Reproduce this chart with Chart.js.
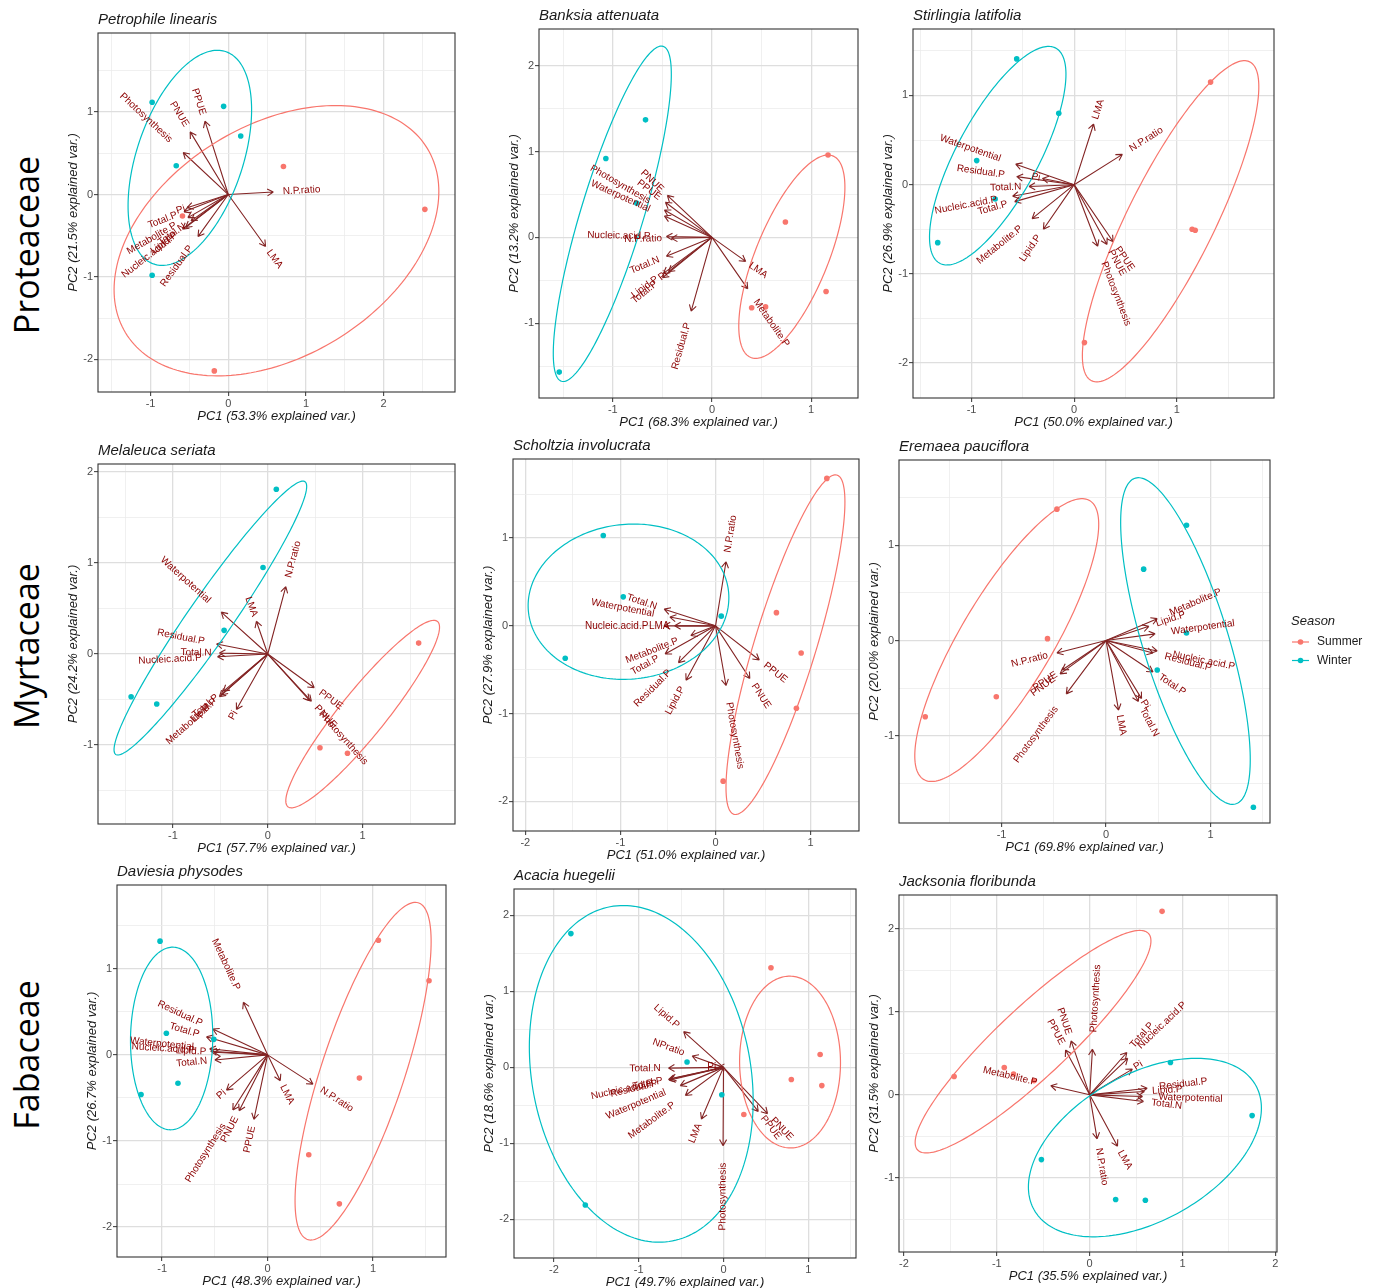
<!DOCTYPE html>
<html>
<head>
<meta charset="utf-8">
<script src="https://cdn.jsdelivr.net/npm/chart.js@4/dist/chart.umd.min.js"></script>
<style>
  body { margin: 0; background: #fff; }
  #page { position: relative; width: 1375px; height: 1288px; overflow: hidden; }
  canvas { position: absolute; }
  .family {
    position: absolute; white-space: nowrap; font: 34px "Open Sans", sans-serif; color: #000;
    transform: translate(-50%, -50%) rotate(-90deg);
  }
</style>
</head>
<body>
<div id="page">
  <div class="family" style="left:26px;top:245px">Proteaceae</div>
  <div class="family" style="left:26px;top:646px">Myrtaceae</div>
  <div class="family" style="left:26px;top:1055px">Fabaceae</div>
</div>
<script>
const SUMMER = "#F8766D";
const WINTER = "#00BFC4";
const ARROW = "#832424";
const LABEL = "#8B0000";

// ellipses: [leftmost x, rightmost x, lowest y, highest y, x at the top point]

// Petrophile linearis
const petrophileSummer = [[0.71, 0.34], [2.53, -0.18], [-0.18, -2.14], [-0.59, -0.26]];
const petrophileWinter = [[-0.98, 1.12], [-0.06, 1.07], [0.16, 0.71], [-0.67, 0.35], [-0.98, -0.98]];
const petrophileArrows = [
  ["PPUE", -0.30, 0.89], ["PNUE", -0.49, 0.76], ["Photosynthesis", -0.58, 0.51],
  ["N.P.ratio", 0.58, 0.03], ["LMA", 0.48, -0.63], ["Pi", -0.53, -0.16],
  ["Total.P", -0.57, -0.21], ["Metabolite.P", -0.52, -0.28], ["Total.N", -0.48, -0.32],
  ["Nucleic.acid.P", -0.55, -0.40], ["Lipid.P", -0.59, -0.42], ["Residual.P", -0.39, -0.51]
];
const petrophileSummerEllipse = [-1.47, 2.71, -2.20, 1.08, 1.38];
const petrophileWinterEllipse = [-1.29, 0.30, -0.86, 1.75, -0.14];

// Banksia attenuata
const banksiaSummer = [[1.17, 0.96], [0.74, 0.18], [1.15, -0.63], [0.40, -0.82], [0.54, -0.81]];
const banksiaWinter = [[-0.67, 1.37], [-1.07, 0.92], [-0.76, 0.40], [-1.54, -1.57]];
const banksiaArrows = [
  ["PNUE", -0.45, 0.49], ["PPUE", -0.47, 0.41], ["Photosynthesis", -0.48, 0.32],
  ["Waterpotential", -0.48, 0.25], ["Nucleic.acid.P", -0.46, 0.01], ["N.P.ratio", -0.41, -0.01],
  ["Total.N", -0.46, -0.22], ["Pi", -0.44, -0.40], ["Lipid.P", -0.49, -0.42],
  ["Total.P", -0.50, -0.47], ["Residual.P", -0.21, -0.86], ["LMA", 0.34, -0.28],
  ["Metabolite.P", 0.36, -0.60]
];
const banksiaSummerEllipse = [0.27, 1.34, -1.41, 0.96, 1.17];
const banksiaWinterEllipse = [-1.60, -0.41, -1.68, 2.23, -0.51];

// Stirlingia latifolia
const stirlingiaSummer = [[1.33, 1.15], [1.15, -0.50], [1.18, -0.51], [0.10, -1.77]];
const stirlingiaWinter = [[-0.56, 1.41], [-0.15, 0.80], [-0.95, 0.27], [-0.77, -0.16], [-1.33, -0.65]];
const stirlingiaArrows = [
  ["LMA", 0.19, 0.68], ["N.P.ratio", 0.47, 0.34], ["Waterpotential", -0.57, 0.23],
  ["Residual.P", -0.56, 0.09], ["Pi", -0.31, 0.07], ["Total.N", -0.44, -0.02],
  ["Nucleic.acid.P", -0.60, -0.13], ["Total.P", -0.58, -0.19], ["Metabolite.P", -0.41, -0.38],
  ["Lipid.P", -0.30, -0.50], ["PPUE", 0.38, -0.64], ["PNUE", 0.32, -0.67],
  ["Photosynthesis", 0.23, -0.69]
];
const stirlingiaSummerEllipse = [0.08, 1.80, -2.21, 1.39, 1.66];
const stirlingiaWinterEllipse = [-1.41, -0.08, -0.90, 1.55, -0.25];

// Melaleuca seriata
const melaleucaSummer = [[1.59, 0.12], [0.55, -1.03], [0.84, -1.09]];
const melaleucaWinter = [[0.09, 1.81], [-0.05, 0.95], [-0.46, 0.26], [-1.44, -0.47], [-1.17, -0.55]];
const melaleucaArrows = [
  ["N.P.ratio", 0.19, 0.74], ["LMA", -0.12, 0.36], ["Waterpotential", -0.49, 0.46],
  ["Residual.P", -0.54, 0.11], ["Total.N", -0.51, 0.01], ["Nucleic.acid.P", -0.53, -0.03],
  ["Total.P", -0.47, -0.41], ["Lipid.P", -0.49, -0.45], ["Metabolite.P", -0.51, -0.47],
  ["Pi", -0.33, -0.61], ["PPUE", 0.49, -0.37], ["PNUE", 0.46, -0.52],
  ["Photosynthesis", 0.44, -0.51]
];
const melaleucaSummerEllipse = [0.19, 1.81, -1.69, 0.37, 1.75];
const melaleucaWinterEllipse = [-1.62, 0.41, -1.11, 1.90, 0.37];

// Scholtzia involucrata
const scholtziaSummer = [[1.17, 1.68], [0.64, 0.15], [0.90, -0.31], [0.85, -0.94], [0.08, -1.77]];
const scholtziaWinter = [[-1.18, 1.03], [-0.97, 0.33], [-1.58, -0.37], [0.06, 0.11]];
const scholtziaArrows = [
  ["N.P.ratio", 0.11, 0.73], ["Total.N", -0.54, 0.19], ["Waterpotential", -0.48, 0.10],
  ["Nucleic.acid.P", -0.54, 0.00], ["LMA", -0.43, 0.00], ["Metabolite.P", -0.26, -0.11],
  ["Total.P", -0.53, -0.32], ["Residual.P", -0.39, -0.42], ["Lipid.P", -0.31, -0.62],
  ["Photosynthesis", 0.11, -0.68], ["PPUE", 0.46, -0.39], ["PNUE", 0.36, -0.60]
];
const scholtziaSummerEllipse = [0.11, 1.36, -2.15, 1.72, 1.26];
const scholtziaWinterEllipse = [-1.97, 0.14, -0.61, 1.16, -0.86];

// Eremaea pauciflora
const eremaeaSummer = [[-0.47, 1.38], [-0.56, 0.02], [-1.05, -0.59], [-1.73, -0.80]];
const eremaeaWinter = [[0.77, 1.21], [0.36, 0.75], [0.77, 0.08], [0.49, -0.31], [1.41, -1.75]];
const eremaeaArrows = [
  ["Metabolite.P", 0.49, 0.23], ["Lipid.P", 0.41, 0.15], ["Waterpotential", 0.47, 0.07],
  ["Nucleic.acid.P", 0.49, -0.11], ["Residual.P", 0.45, -0.13], ["Total.P", 0.45, -0.33],
  ["Pi", 0.34, -0.61], ["Total.N", 0.31, -0.64], ["LMA", 0.12, -0.73],
  ["N.P.ratio", -0.47, -0.13], ["PPUE", -0.42, -0.31], ["PNUE", -0.44, -0.35],
  ["Photosynthesis", -0.38, -0.56]
];
const eremaeaSummerEllipse = [-1.83, -0.07, -1.48, 1.49, -0.23];
const eremaeaWinterEllipse = [0.14, 1.38, -1.72, 1.71, 0.31];

// Daviesia physodes
const daviesiaSummer = [[1.05, 1.33], [1.53, 0.86], [0.87, -0.27], [0.39, -1.16], [0.68, -1.73]];
const daviesiaWinter = [[-1.02, 1.32], [-0.96, 0.25], [-0.51, 0.18], [-0.85, -0.33], [-1.20, -0.46]];
const daviesiaArrows = [
  ["Metabolite.P", -0.23, 0.61], ["Residual.P", -0.52, 0.30], ["Total.P", -0.58, 0.21],
  ["Waterpotential", -0.55, 0.07], ["Nucleic.acid.P", -0.54, 0.04], ["Lipid.P", -0.51, 0.03],
  ["Total.N", -0.50, -0.06], ["Pi", -0.39, -0.41], ["Photosynthesis", -0.33, -0.64],
  ["PNUE", -0.27, -0.65], ["PPUE", -0.13, -0.75], ["LMA", 0.12, -0.30],
  ["N.P.ratio", 0.43, -0.34]
];
const daviesiaSummerEllipse = [0.26, 1.55, -2.15, 1.77, 1.40];
const daviesiaWinterEllipse = [-1.30, -0.52, -0.87, 1.25, -0.90];

// Acacia huegelii
const acaciaSummer = [[0.56, 1.31], [1.14, 0.17], [0.80, -0.16], [1.16, -0.24], [0.24, -0.62]];
const acaciaWinter = [[-1.80, 1.76], [-0.43, 0.07], [-0.02, -0.36], [-1.63, -1.81]];
const acaciaArrows = [
  ["Lipid.P", -0.47, 0.47], ["NPratio", -0.37, 0.15], ["Total.N", -0.65, -0.01],
  ["Pi", -0.06, 0.00], ["Nucleic.acid.P", -0.65, -0.16], ["Residual.P", -0.64, -0.17],
  ["Total.P", -0.63, -0.15], ["Waterpotential", -0.51, -0.24], ["Metabolite.P", -0.45, -0.37],
  ["LMA", -0.26, -0.68], ["Photosynthesis", -0.005, -1.03], ["PPUE", 0.41, -0.58],
  ["PNUE", 0.52, -0.61]
];
const acaciaSummerEllipse = [0.19, 1.38, -1.06, 1.20, 0.78];
const acaciaWinterEllipse = [-2.29, 0.35, -2.30, 2.13, -1.18];

// Jacksonia floribunda
const jacksoniaSummer = [[0.78, 2.21], [-1.46, 0.22], [-0.92, 0.33], [-0.82, 0.25], [-0.60, 0.17]];
const jacksoniaWinter = [[0.87, 0.39], [1.75, -0.25], [-0.52, -0.78], [0.28, -1.26], [0.60, -1.27]];
const jacksoniaArrows = [
  ["Photosynthesis", 0.03, 0.55], ["PNUE", -0.20, 0.65], ["PPUE", -0.26, 0.54],
  ["Total.P", 0.40, 0.51], ["Nucleic.acid.P", 0.41, 0.44], ["Pi", 0.46, 0.31],
  ["Metabolite.P", -0.42, 0.11], ["Residual.P", 0.62, 0.08], ["Lipid.P", 0.59, 0.04],
  ["Waterpotential", 0.57, -0.02], ["Total.N", 0.58, -0.08], ["N.P.ratio", 0.08, -0.53],
  ["LMA", 0.30, -0.62]
];
const jacksoniaSummerEllipse = [-1.88, 0.66, -0.70, 1.98, 0.54];
const jacksoniaWinterEllipse = [-0.66, 1.85, -1.71, 0.44, 1.15];

// panel layout: plot box [left, top, right, bottom] in page pixels, axis ranges
const panels = [
  { title: "Petrophile linearis", pc1: "53.3", pc2: "21.5", summer: petrophileSummer, winter: petrophileWinter,
    arrows: petrophileArrows, summerEllipse: petrophileSummerEllipse, winterEllipse: petrophileWinterEllipse,
    box: [98.3, 33.3, 455.7, 392.7], xRange: [-1.677, 2.918], yRange: [-2.396, 1.96] },
  { title: "Banksia attenuata", pc1: "68.3", pc2: "13.2", summer: banksiaSummer, winter: banksiaWinter,
    arrows: banksiaArrows, summerEllipse: banksiaSummerEllipse, winterEllipse: banksiaWinterEllipse,
    box: [539.3, 29.3, 858.3, 398.3], xRange: [-1.744, 1.472], yRange: [-1.872, 2.429] },
  { title: "Stirlingia latifolia", pc1: "50.0", pc2: "26.9", summer: stirlingiaSummer, winter: stirlingiaWinter,
    arrows: stirlingiaArrows, summerEllipse: stirlingiaSummerEllipse, winterEllipse: stirlingiaWinterEllipse,
    box: [913.3, 29.3, 1274, 398.3], xRange: [-1.571, 1.948], yRange: [-2.391, 1.745] },
  { title: "Melaleuca seriata", pc1: "57.7", pc2: "24.2", summer: melaleucaSummer, winter: melaleucaWinter,
    arrows: melaleucaArrows, summerEllipse: melaleucaSummerEllipse, winterEllipse: melaleucaWinterEllipse,
    box: [98.3, 464.3, 455.7, 824.3], xRange: [-1.789, 1.973], yRange: [-1.868, 2.088] },
  { title: "Scholtzia involucrata", pc1: "51.0", pc2: "27.9", summer: scholtziaSummer, winter: scholtziaWinter,
    arrows: scholtziaArrows, summerEllipse: scholtziaSummerEllipse, winterEllipse: scholtziaWinterEllipse,
    box: [512.7, 459, 858.3, 830.7], xRange: [-2.129, 1.508], yRange: [-2.338, 1.901] },
  { title: "Eremaea pauciflora", pc1: "69.8", pc2: "20.0", summer: eremaeaSummer, winter: eremaeaWinter,
    arrows: eremaeaArrows, summerEllipse: eremaeaSummerEllipse, winterEllipse: eremaeaWinterEllipse,
    box: [899, 460, 1270, 823.3], xRange: [-1.981, 1.569], yRange: [-1.916, 1.896], legend: true },
  { title: "Daviesia physodes", pc1: "48.3", pc2: "26.7", summer: daviesiaSummer, winter: daviesiaWinter,
    arrows: daviesiaArrows, summerEllipse: daviesiaSummerEllipse, winterEllipse: daviesiaWinterEllipse,
    box: [116.7, 885, 445.7, 1257.3], xRange: [-1.428, 1.691], yRange: [-2.347, 1.972] },
  { title: "Acacia huegelii", pc1: "49.7", pc2: "18.6", summer: acaciaSummer, winter: acaciaWinter,
    arrows: acaciaArrows, summerEllipse: acaciaSummerEllipse, winterEllipse: acaciaWinterEllipse,
    box: [514, 889.3, 855.7, 1258.3], xRange: [-2.471, 1.563], yRange: [-2.508, 2.347] },
  { title: "Jacksonia floribunda", pc1: "35.5", pc2: "31.5", summer: jacksoniaSummer, winter: jacksoniaWinter,
    arrows: jacksoniaArrows, summerEllipse: jacksoniaSummerEllipse, winterEllipse: jacksoniaWinterEllipse,
    box: [899.3, 895, 1277.7, 1252.3], xRange: [-2.054, 2.018], yRange: [-1.893, 2.407] }
];

const FONT = '"Liberation Sans", Arial, sans-serif';
const PAD_LEFT = 55, PAD_TOP = 30, PAD_BOTTOM = 40;

Chart.defaults.font.family = FONT;

const isWhole = (v) => Math.abs(v - Math.round(v)) < 1e-6;

// major grid at integers, minor grid halfway between
const halfSteps = (scale) => {
  const ticks = [];
  for (let v = Math.ceil(scale.min * 2) / 2; v <= scale.max + 1e-9; v += 0.5) {
    ticks.push({ value: Math.round(v * 2) / 2 });
  }
  scale.ticks = ticks;
};

const axis = (range, fit) => ({
  type: "linear",
  min: range[0],
  max: range[1],
  afterBuildTicks: halfSteps,
  afterFit: fit,
  border: { display: false },
  grid: {
    color: (c) => (isWhole(c.tick.value) ? "#dedede" : "#ececec"),
    lineWidth: (c) => (isWhole(c.tick.value) ? 1.3 : 0.8),
    tickColor: (c) => (isWhole(c.tick.value) ? "#333333" : "rgba(0,0,0,0)"),
    tickLength: 4,
    tickWidth: 1,
  },
  ticks: {
    autoSkip: false,
    maxRotation: 0,
    padding: 1,
    color: "#4d4d4d",
    font: { size: 11 },
    callback: (v) => (isWhole(v) ? String(Math.round(v)) : ""),
  },
});

const drawEllipse = (ctx, x, y, e, color) => {
  const [x0, x1, y0, y1, xt] = e;
  const cx = (x0 + x1) / 2, w = (x1 - x0) / 2;
  const cy = (y0 + y1) / 2, h = (y1 - y0) / 2;
  const psi = Math.acos(Math.max(-1, Math.min(1, (xt - cx) / w)));
  ctx.beginPath();
  for (let i = 0; i <= 200; i++) {
    const t = (i / 200) * 2 * Math.PI;
    const px = x.getPixelForValue(cx + w * Math.cos(t));
    const py = y.getPixelForValue(cy + h * Math.cos(t - psi));
    if (i) ctx.lineTo(px, py);
    else ctx.moveTo(px, py);
  }
  ctx.closePath();
  ctx.strokeStyle = color;
  ctx.lineWidth = 1.2;
  ctx.stroke();
};

const makeBiplot = (p) => ({
  id: "biplot",
  beforeDatasetsDraw(chart) {
    const { ctx, chartArea: a, scales: { x, y } } = chart;
    const ox = x.getPixelForValue(0), oy = y.getPixelForValue(0);
    ctx.save();
    ctx.beginPath();
    ctx.rect(a.left, a.top, a.width, a.height);
    ctx.clip();
    ctx.strokeStyle = ARROW;
    ctx.lineWidth = 1.1;
    for (const [, vx, vy] of p.arrows) {
      const px = x.getPixelForValue(vx), py = y.getPixelForValue(vy);
      const ang = Math.atan2(py - oy, px - ox);
      ctx.beginPath();
      ctx.moveTo(ox, oy);
      ctx.lineTo(px, py);
      for (const s of [-1, 1]) {
        ctx.moveTo(px, py);
        ctx.lineTo(px - 7 * Math.cos(ang + (s * Math.PI) / 6), py - 7 * Math.sin(ang + (s * Math.PI) / 6));
      }
      ctx.stroke();
    }
    ctx.restore();
  },
  afterDatasetsDraw(chart) {
    const { ctx, chartArea: a, scales: { x, y } } = chart;
    const ox = x.getPixelForValue(0), oy = y.getPixelForValue(0);
    ctx.save();
    ctx.beginPath();
    ctx.rect(a.left, a.top, a.width, a.height);
    ctx.clip();
    drawEllipse(ctx, x, y, p.summerEllipse, SUMMER);
    drawEllipse(ctx, x, y, p.winterEllipse, WINTER);

    // variable names sit past the arrow tip, turned along the arrow
    ctx.font = `10px ${FONT}`;
    ctx.fillStyle = LABEL;
    ctx.textBaseline = "middle";
    ctx.textAlign = "left";
    for (const [name, vx, vy] of p.arrows) {
      const px = x.getPixelForValue(vx), py = y.getPixelForValue(vy);
      const dx = px - ox, dy = py - oy;
      const rot = dx === 0 ? -Math.PI / 2 : Math.atan(dy / dx);
      const w = ctx.measureText(name).width;
      const hj = (1 - 1.5 * Math.sign(vx)) / 2;
      ctx.save();
      ctx.translate(px, py);
      ctx.rotate(rot);
      ctx.fillText(name, -hj * w, 0);
      ctx.restore();
    }
    ctx.restore();
  },
  afterDraw(chart) {
    const { ctx, chartArea: a } = chart;
    ctx.save();
    ctx.strokeStyle = "#333333";
    ctx.lineWidth = 1.1;
    ctx.strokeRect(a.left, a.top, a.width, a.height);

    ctx.fillStyle = "#1a1a1a";
    ctx.font = `italic 15px ${FONT}`;
    ctx.textAlign = "left";
    ctx.textBaseline = "alphabetic";
    ctx.fillText(p.title, a.left, a.top - 9);

    ctx.font = `italic 13px ${FONT}`;
    ctx.textAlign = "center";
    ctx.textBaseline = "middle";
    ctx.fillText(`PC1 (${p.pc1}% explained var.)`, (a.left + a.right) / 2, a.bottom + 24);
    ctx.save();
    ctx.translate(a.left - 25, (a.top + a.bottom) / 2);
    ctx.rotate(-Math.PI / 2);
    ctx.fillText(`PC2 (${p.pc2}% explained var.)`, 0, 0);
    ctx.restore();

    if (p.legend) {
      const lx = a.right + 21, ly = (a.top + a.bottom) / 2;
      ctx.textAlign = "left";
      ctx.font = `italic 13px ${FONT}`;
      ctx.fillText("Season", lx, ly - 20);
      ctx.font = `12px ${FONT}`;
      [["Summer", SUMMER, ly + 0.5], ["Winter", WINTER, ly + 19]].forEach(([name, col, yy]) => {
        ctx.strokeStyle = col;
        ctx.lineWidth = 1.2;
        ctx.beginPath();
        ctx.moveTo(lx + 1, yy);
        ctx.lineTo(lx + 18, yy);
        ctx.stroke();
        ctx.fillStyle = col;
        ctx.beginPath();
        ctx.arc(lx + 9.5, yy, 2.8, 0, 2 * Math.PI);
        ctx.fill();
        ctx.fillStyle = "#1a1a1a";
        ctx.fillText(name, lx + 26, yy);
      });
    }
    ctx.restore();
  },
});

const page = document.getElementById("page");

panels.forEach((p) => {
  const [L, T, R, B] = p.box;
  const padRight = p.legend ? 105 : 8;
  const canvas = document.createElement("canvas");
  const plotW = Math.round(R - L);
  const w = plotW + PAD_LEFT + padRight;
  const h = Math.round(B - T) + PAD_TOP + PAD_BOTTOM;
  canvas.width = w;
  canvas.height = h;
  canvas.style.left = `${Math.round(L) - PAD_LEFT}px`;
  canvas.style.top = `${Math.round(T) - PAD_TOP}px`;
  canvas.style.width = `${w}px`;
  canvas.style.height = `${h}px`;
  page.appendChild(canvas);

  const pts = (arr) => arr.map(([x, y]) => ({ x, y }));

  new Chart(canvas.getContext("2d"), {
    type: "scatter",
    data: {
      datasets: [
        { label: "Summer", data: pts(p.summer), backgroundColor: SUMMER, borderWidth: 0, pointRadius: 2.8 },
        { label: "Winter", data: pts(p.winter), backgroundColor: WINTER, borderWidth: 0, pointRadius: 2.8 },
      ],
    },
    options: {
      responsive: false,
      animation: false,
      devicePixelRatio: 1,
      events: [],
      layout: {
        autoPadding: false,
        padding: { top: PAD_TOP, right: padRight, bottom: 0, left: 0 },
      },
      plugins: { legend: { display: false }, tooltip: { enabled: false }, title: { display: false } },
      scales: {
        x: axis(p.xRange, (s) => { s.height = PAD_BOTTOM; }),
        y: axis(p.yRange, (s) => { s.width = PAD_LEFT; }),
      },
    },
    plugins: [makeBiplot(p)],
  });
});
</script>
</body>
</html>
